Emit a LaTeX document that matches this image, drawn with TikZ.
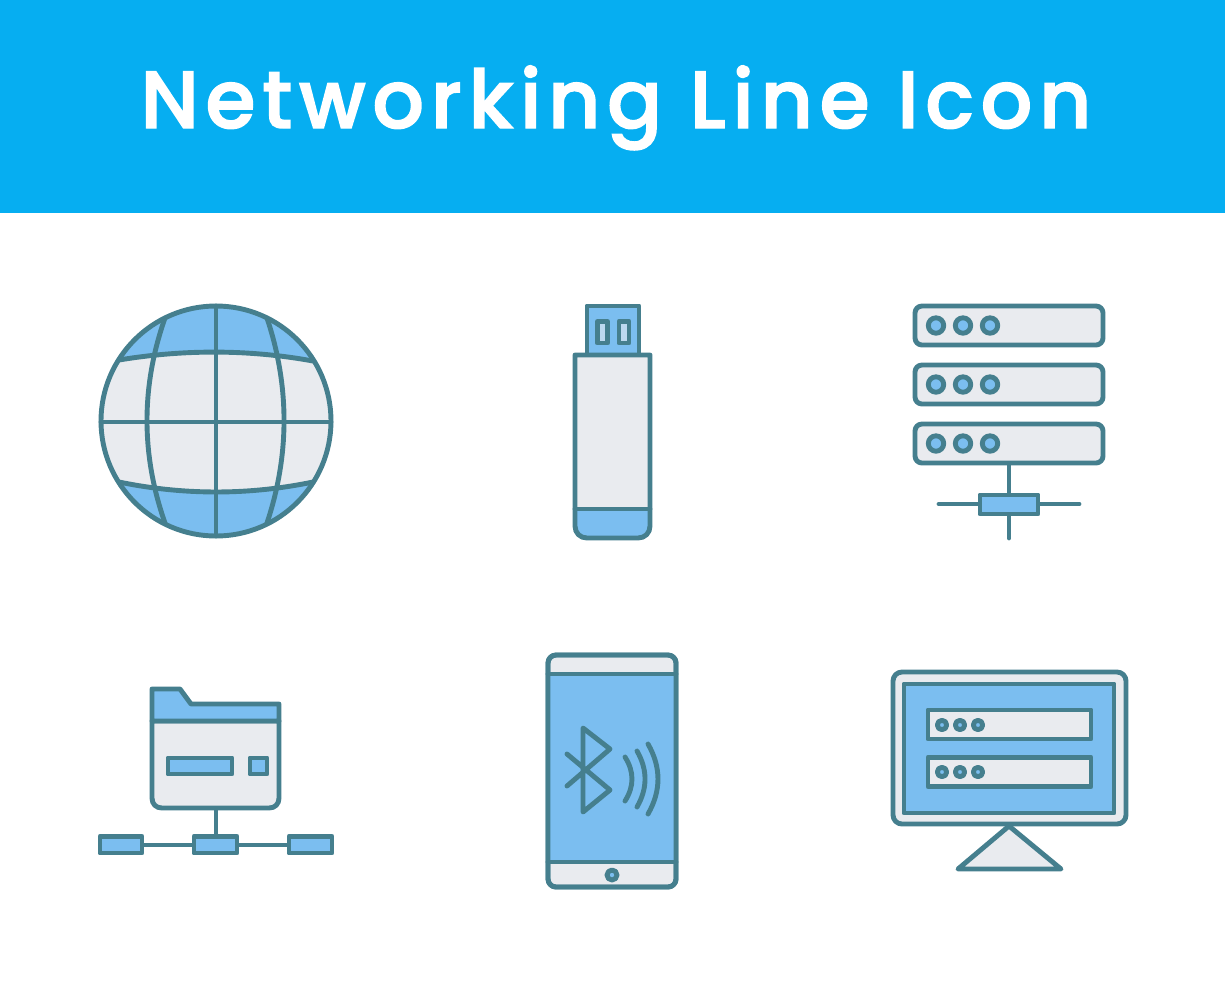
\documentclass[tikz,border=0pt]{standalone}
\usepackage{fontspec}
\newfontfamily\titlefont[LetterSpace=8.2,FakeBold=1.8]{Poppins Medium}
\definecolor{hdr}{HTML}{06AEF1}
\definecolor{bluef}{HTML}{7BBEF0}
\definecolor{greyf}{HTML}{E9EBEF}
\definecolor{ink}{HTML}{457F8E}
\tikzset{
  ln/.style={draw=ink,line width=4.9pt,line join=round,line cap=round},
  bl/.style={ln,fill=bluef},
  gr/.style={ln,fill=greyf},
  dot/.style={ln,fill=bluef},
}
\begin{document}
\begin{tikzpicture}[x=1pt,y=-1pt]
\useasboundingbox (0,0) rectangle (1225,980);
\fill[white] (0,0) rectangle (1225,980);
\fill[hdr] (0,0) rectangle (1225,213);
\node[text=white,font=\titlefont\fontsize{81}{90}\selectfont,anchor=base,inner sep=0pt] (title) at (616,128) {Networking Line Icon};

% globe
\fill[bluef] (216,421) circle[radius=115pt];
\begin{scope}
\clip (216,421) circle[radius=115pt];
\fill[greyf] (60,360) -- (119,360) .. controls (183.7,349.3) and (248.7,349.3) .. (313,361) -- (370,361) -- (370,482) -- (313,482) .. controls (248.7,495.3) and (183.7,495.3) .. (119,482) -- (60,482) -- cycle;
\end{scope}
\draw[ln] (119,360) .. controls (183.7,349.3) and (248.7,349.3) .. (313,361);
\draw[ln] (119,482) .. controls (183.7,495.3) and (248.7,495.3) .. (313,482);
\draw[ln] (165,318) .. controls (141,386.3) and (141,454.7) .. (165,523);
\draw[ln] (267,318) .. controls (289.7,386.3) and (289.7,454.7) .. (267,523);
\draw[ln] (101,422) -- (331,422);
\draw[ln] (216,306) -- (216,536);
\draw[ln] (216,421) circle[radius=115pt];

% usb
\draw[bl] (587,306) rectangle (639,355);
\draw[ln,fill=bluef!40!greyf] (597.5,321.5) rectangle (607.5,343);
\draw[ln,fill=bluef!40!greyf] (619,321.5) rectangle (629,343);
\fill[greyf] (575,355) rectangle (650,509);
\fill[bluef] (575,509) -- (575,526) .. controls (575,533) and (580,538) .. (587,538) -- (638,538) .. controls (645,538) and (650,533) .. (650,526) -- (650,509) -- cycle;
\draw[ln] (575,355) -- (575,526) .. controls (575,533) and (580,538) .. (587,538) -- (638,538) .. controls (645,538) and (650,533) .. (650,526) -- (650,355) -- cycle;
\draw[ln] (575,509) -- (650,509);

% server
\draw[ln] (1009,463) -- (1009,538);
\draw[ln] (939,504) -- (1079,504);
\draw[bl] (980,495) rectangle (1038,514);
\foreach \yy in {306,365,424}{
  \draw[gr,rounded corners=7pt] (915,\yy) rectangle (1103,\yy+39);
  \foreach \xx in {936,963,990}
    \draw[dot] (\xx,\yy+19.5) circle[radius=7.7pt];
}

% folder
\draw[ln] (216,808) -- (216,845);
\draw[ln] (121,845) -- (310,845);
\draw[gr] (152,721) -- (152,798) .. controls (152,804) and (156,808) .. (162,808) -- (269,808) .. controls (275,808) and (279,804) .. (279,798) -- (279,721) -- cycle;
\draw[bl] (152,721) -- (152,689) -- (180,689) -- (191,704) -- (279,704) -- (279,721) -- cycle;
\draw[bl] (168,758) rectangle (232,774);
\draw[bl] (250,758) rectangle (267,774);
\draw[bl] (100,836.5) rectangle (142,853);
\draw[bl] (194,836.5) rectangle (237,853);
\draw[bl] (289,836.5) rectangle (332,853);

% phone
\draw[gr,rounded corners=8pt] (548,655) rectangle (676,887);
\fill[bluef] (548,674) rectangle (676,862);
\draw[ln,rounded corners=8pt] (548,655) rectangle (676,887);
\draw[ln] (548,674) -- (676,674);
\draw[ln] (548,862) -- (676,862);
\draw[dot] (612,875) circle[radius=5pt];
\draw[ln] (567,754) -- (610,790) -- (583,812) -- (583,728) -- (610,749) -- (567,786);
\draw[ln] (625,757) .. controls (634.3,771.7) and (634.3,786.3) .. (625,801);
\draw[ln] (637,751) .. controls (647.7,769.7) and (647.7,788.3) .. (637,807);
\draw[ln] (648,744) .. controls (661.3,767.3) and (661.3,790.7) .. (648,814);

% monitor
\draw[gr] (1009,826) -- (958,869) -- (1061,869) -- cycle;
\draw[gr,rounded corners=9pt] (893,672) rectangle (1126,824);
\draw[bl] (904,684) rectangle (1114,813);
\foreach \yy/\cc in {710/725,757.5/772}{
  \draw[gr] (928,\yy) rectangle (1091,\yy+29);
  \foreach \xx in {942,960,978}
    \draw[dot] (\xx,\cc) circle[radius=4.7pt];
}
\end{tikzpicture}
\end{document}
